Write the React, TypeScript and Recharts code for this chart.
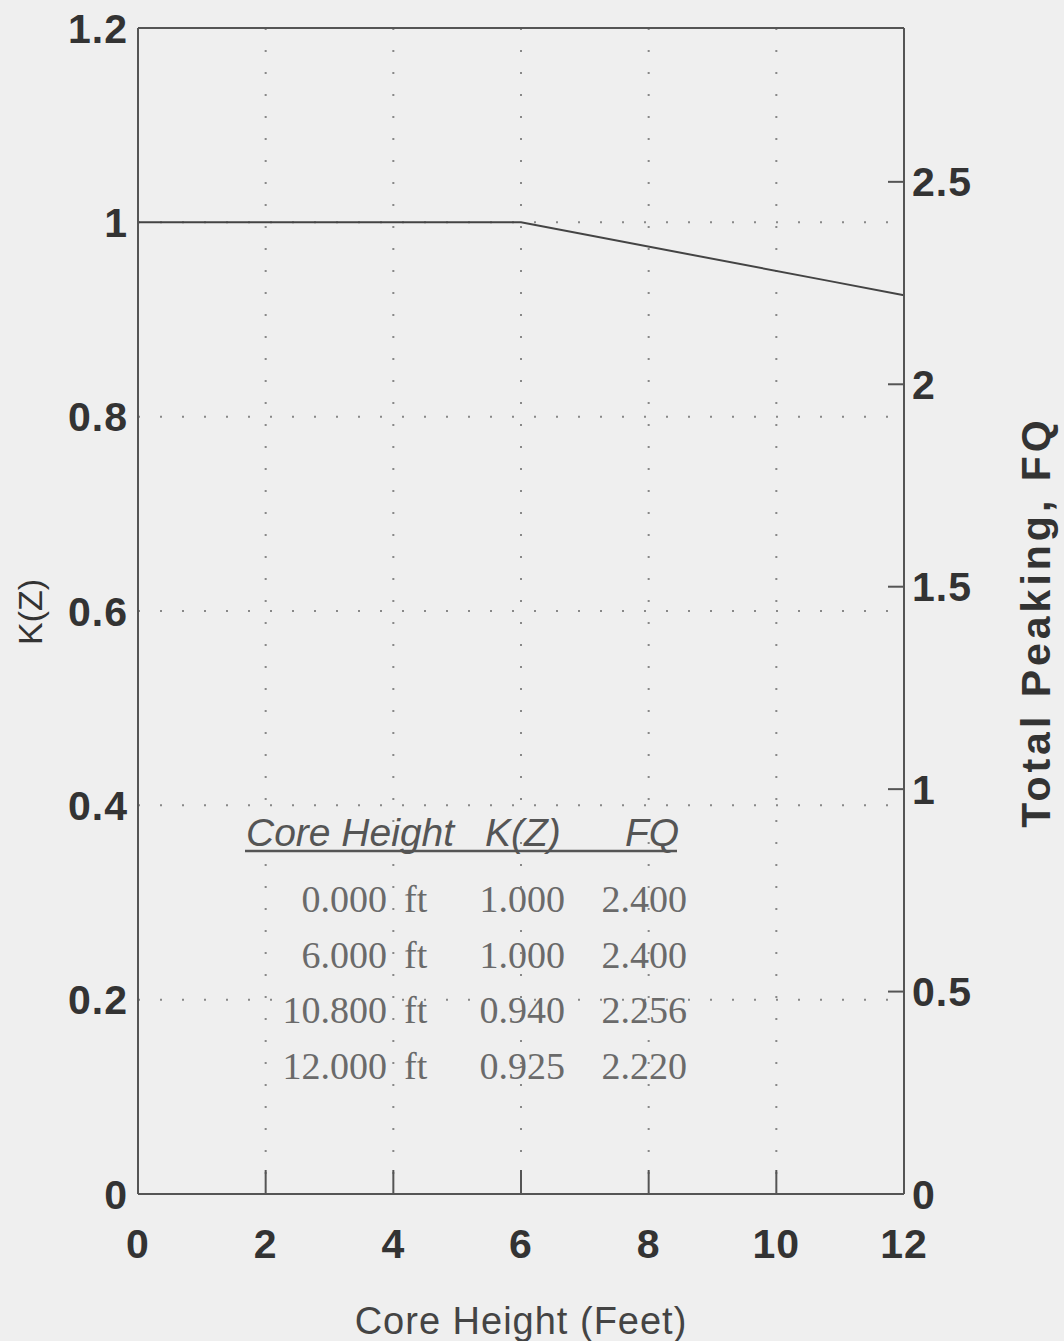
import { LineChart, Line, XAxis, YAxis, CartesianGrid, ReferenceLine } from 'recharts';

const heights = [0, 6, 10.8, 12];
const kz = [1.0, 1.0, 0.94, 0.925];
const fq = [2.4, 2.4, 2.256, 2.22];
const fqRows = ['2.400', '2.400', '2.256', '2.220'];
const heightRows = ['0.000', '6.000', '10.800', '12.000'];
const kzRows = ['1.000', '1.000', '0.940', '0.925'];

const xTicks = [0, 2, 4, 6, 8, 10, 12];
const leftTicks = [0, 0.2, 0.4, 0.6, 0.8, 1, 1.2];
const rightTicks = [0, 0.5, 1, 1.5, 2, 2.5];

const data = heights.map((h, i) => ({ h, k: kz[i], fq: fq[i] }));

const ink = '#333';
const tickFont = { fontFamily: 'Liberation Sans, Arial, sans-serif', fontSize: 41, fontWeight: 700, fill: ink, letterSpacing: 1 };

export default function App() {
  return (
    <div style={{ position: 'absolute', left: 0, top: 0, width: 1064, height: 1341, background: '#efefef' }}>
      <LineChart width={1064} height={1341} data={data} margin={{ top: 28, right: 0, bottom: 0, left: 0 }}>
        <CartesianGrid yAxisId="left" stroke="#888" strokeWidth={2} strokeDasharray="2 20" ticks={leftTicks} />
        <XAxis
          dataKey="h"
          type="number"
          domain={[0, 12]}
          ticks={xTicks}
          height={147}
          stroke="#555"
          strokeWidth={2}
          tickSize={-24}
          tickMargin={59}
          tick={tickFont}
        />
        <YAxis
          yAxisId="left"
          domain={[0, 1.2]}
          ticks={leftTicks}
          width={138}
          stroke="#555"
          strokeWidth={2}
          tickSize={0}
          tickMargin={10}
          tick={tickFont}
        />
        <YAxis
          yAxisId="right"
          orientation="right"
          type="number"
          domain={[0, 2.88]}
          ticks={rightTicks}
          interval={0}
          allowDataOverflow
          width={160}
          stroke="#555"
          strokeWidth={2}
          tickSize={-16}
          tickMargin={24}
          tick={tickFont}
        />
        <ReferenceLine yAxisId="left" y={1.2} stroke="#555" strokeWidth={2} />
        <Line
          yAxisId="right"
          type="linear"
          dataKey="fq"
          stroke="none"
          dot={false}
          isAnimationActive={false}
        />
        <Line
          yAxisId="left"
          type="linear"
          dataKey="k"
          stroke="#444"
          strokeWidth={2}
          dot={false}
          isAnimationActive={false}
        />
      </LineChart>
      <svg width={1064} height={1341} style={{ position: 'absolute', left: 0, top: 0, pointerEvents: 'none' }}>
        <text
          transform="translate(42,612) rotate(-90)"
          textAnchor="middle"
          fontFamily="Liberation Sans, Arial, sans-serif"
          fontSize={34}
          fill={ink}
        >
          K(Z)
        </text>
        <text
          transform="translate(1050,622) rotate(-90)"
          textAnchor="middle"
          fontFamily="Liberation Sans, Arial, sans-serif"
          fontSize={41}
          fontWeight={700}
          letterSpacing={4}
          fill={ink}
        >
          Total Peaking, FQ
        </text>
        <text
          x={521}
          y={1334}
          textAnchor="middle"
          fontFamily="Liberation Sans, Arial, sans-serif"
          fontSize={38}
          letterSpacing={1}
          fill="#444"
        >
          Core Height (Feet)
        </text>
        <g fontFamily="Liberation Sans, Arial, sans-serif" fontSize={39} fontStyle="italic" fill="#555">
          <text x={246} y={846}>Core Height</text>
          <text x={485} y={846}>K(Z)</text>
          <text x={625} y={846}>FQ</text>
        </g>
        <line x1={245} x2={677} y1={851} y2={851} stroke="#555" strokeWidth={2.5} />
        <g fontFamily="Liberation Serif, Times New Roman, serif" fontSize={38} fill="#6a6a6a">
          {heightRows.map((v, i) => (
            <g key={v}>
              <text x={387} y={912 + i * 55.5} textAnchor="end">{v}</text>
              <text x={404} y={912 + i * 55.5}>ft</text>
              <text x={565} y={912 + i * 55.5} textAnchor="end">{kzRows[i]}</text>
              <text x={687} y={912 + i * 55.5} textAnchor="end">{fqRows[i]}</text>
            </g>
          ))}
        </g>
      </svg>
    </div>
  );
}
